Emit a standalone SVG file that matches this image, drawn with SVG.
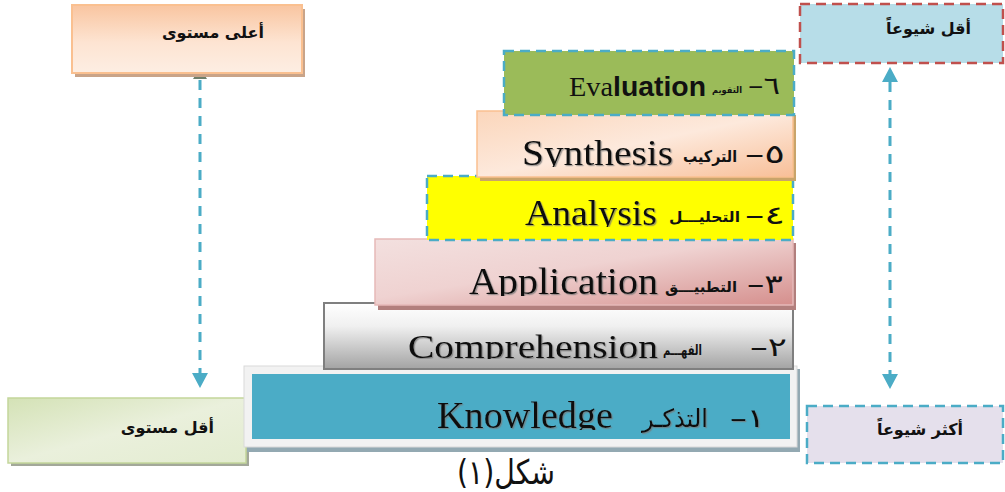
<svg xmlns="http://www.w3.org/2000/svg" width="1005" height="492" viewBox="0 0 1005 492">
<style>
.en{font-family:"Liberation Serif",serif;fill:#111;}
.ar{font-family:"DejaVu Sans","Noto Sans",sans-serif;font-weight:bold;fill:#111;}
.num{font-family:"DejaVu Sans","Liberation Serif",serif;fill:#111;}
.lbl{font-family:"DejaVu Sans","Noto Sans",sans-serif;font-weight:bold;font-size:16px;fill:#111;}
.conn{fill:none;stroke:#4bacc6;stroke-width:3;stroke-dasharray:10 8;}
</style>
<defs>
<linearGradient id="gPeach" x1="0" y1="0" x2="0" y2="1">
<stop offset="0" stop-color="#f9c5a0"/><stop offset="0.55" stop-color="#fde4d2"/><stop offset="1" stop-color="#fdeee3"/>
</linearGradient>
<linearGradient id="gPeach2" x1="0" y1="0" x2="1" y2="1">
<stop offset="0" stop-color="#fbd6bb"/><stop offset="0.5" stop-color="#fde9dc"/><stop offset="1" stop-color="#f8bf98"/>
</linearGradient>
<linearGradient id="gPink" x1="0" y1="0" x2="1" y2="1">
<stop offset="0" stop-color="#f3e0df"/><stop offset="0.45" stop-color="#efd2d1"/><stop offset="1" stop-color="#d58f8d"/>
</linearGradient>
<linearGradient id="gGray" x1="0" y1="0" x2="0" y2="1">
<stop offset="0" stop-color="#ffffff"/><stop offset="0.35" stop-color="#f0f0f0"/><stop offset="1" stop-color="#a3a3a3"/>
</linearGradient>
<linearGradient id="gGreen" x1="0" y1="0" x2="1" y2="1">
<stop offset="0" stop-color="#d4e2b6"/><stop offset="0.5" stop-color="#eaf0dc"/><stop offset="1" stop-color="#e3ecd0"/>
</linearGradient>
<filter id="ts" x="-5%" y="-20%" width="110%" height="140%">
<feDropShadow dx="1.2" dy="1.2" stdDeviation="0.6" flood-color="#777" flood-opacity="0.7"/>
</filter>
<marker id="ah" viewBox="0 0 15 16" refX="0" refY="8" markerWidth="15" markerHeight="16" markerUnits="userSpaceOnUse" orient="auto-start-reverse">
<path d="M0,0 L15,8 L0,16 Z" fill="#4bacc6"/>
</marker>
<clipPath id="c5"><rect x="400" y="100" width="400" height="67"/></clipPath>
<clipPath id="c4"><rect x="400" y="170" width="400" height="57"/></clipPath>
<clipPath id="c3"><rect x="400" y="240" width="400" height="56"/></clipPath>
<clipPath id="c2"><rect x="380" y="300" width="420" height="59"/></clipPath>
<clipPath id="c1"><rect x="400" y="375" width="400" height="55"/></clipPath>
</defs>

<g id="connectors">
<polygon points="196,74 204,74 207,79 193,79" fill="#6e7f6b"/>
<line class="conn" x1="200" y1="80" x2="200" y2="373" marker-end="url(#ah)"/>
<line class="conn" x1="890" y1="82" x2="890" y2="374" marker-start="url(#ah)" marker-end="url(#ah)"/>
</g>

<g id="node-top-left">
<rect x="75" y="9" width="230" height="68" fill="#c9a489"/>
<rect x="72" y="5" width="230" height="68" fill="url(#gPeach)" stroke="#fac090" stroke-width="2"/>
<text class="lbl" x="264" y="38" text-anchor="end">أعلى مستوى</text>
</g>

<g id="node-top-right">
<rect x="800" y="4" width="203" height="59" fill="#b7dde8" stroke="#c0504d" stroke-width="2.5" stroke-dasharray="10 6"/>
<text class="lbl" x="971" y="34" text-anchor="end">أقل شيوعاً</text>
</g>

<g id="node-bottom-left">
<rect x="11" y="401" width="238" height="65" fill="#a3a89a"/>
<rect x="8" y="398" width="238" height="65" fill="url(#gGreen)" stroke="#c3d69b" stroke-width="1.5"/>
<text class="lbl" x="214" y="433" text-anchor="end">أقل مستوى</text>
</g>

<g id="node-bottom-right">
<rect x="807" y="406" width="196" height="57" fill="#e5e0ec" stroke="#4bacc6" stroke-width="2.5" stroke-dasharray="10 6"/>
<text class="lbl" x="963" y="435" text-anchor="end">أكثر شيوعاً</text>
</g>

<g id="node-1-knowledge">
<rect x="247" y="369" width="553" height="83" fill="#93a9b2"/>
<rect x="244" y="366" width="553" height="81" fill="#f2f2f2" stroke="#d9d9d9" stroke-width="1"/>
<rect x="252" y="374" width="538" height="65" fill="#4bacc6"/>
<text class="en" x="437" y="428" font-size="38" textLength="176" lengthAdjust="spacingAndGlyphs" filter="url(#ts)" clip-path="url(#c1)">Knowledge</text>
<text x="642" y="427" font-family="DejaVu Sans, sans-serif" fill="#111" font-size="25" textLength="66" lengthAdjust="spacingAndGlyphs" filter="url(#ts)">التذكـر</text>
<text class="num" x="730" y="427" font-size="26" textLength="35" lengthAdjust="spacingAndGlyphs" filter="url(#ts)">–١</text>
</g>

<g id="node-2-comprehension">
<rect x="324" y="303" width="469" height="66" fill="url(#gGray)" stroke="#7f7f7f" stroke-width="2"/>
<text class="en" x="408" y="358" font-size="34" textLength="250" lengthAdjust="spacingAndGlyphs" filter="url(#ts)" clip-path="url(#c2)">Comprehension</text>
<text class="ar" x="663" y="355" font-size="14" textLength="39" lengthAdjust="spacingAndGlyphs">الفهـــم</text>
<text class="num" x="750" y="356" font-size="26" textLength="37" lengthAdjust="spacingAndGlyphs">–٢</text>
</g>

<g id="node-3-application">
<rect x="378" y="243" width="418" height="67" fill="#b27f7d"/>
<rect x="375" y="239" width="418" height="66" fill="url(#gPink)" stroke="#e6b9b8" stroke-width="1.5"/>
<text class="en" x="469" y="294" font-size="38" textLength="189" lengthAdjust="spacingAndGlyphs" filter="url(#ts)" clip-path="url(#c3)">Application</text>
<text class="ar" x="665" y="292" font-size="15" textLength="72" lengthAdjust="spacingAndGlyphs">التطبيـــق</text>
<text class="num" x="747" y="293" font-size="26" textLength="36" lengthAdjust="spacingAndGlyphs">–٣</text>
</g>

<g id="node-4-analysis">
<rect x="427" y="176" width="366" height="64" fill="#ffff00" stroke="#4bacc6" stroke-width="2.5" stroke-dasharray="10 6"/>
<text class="en" x="525" y="225" font-size="35" textLength="132" lengthAdjust="spacingAndGlyphs" filter="url(#ts)" clip-path="url(#c4)">Analysis</text>
<text class="ar" x="669" y="222" font-size="15" textLength="71" lengthAdjust="spacingAndGlyphs">التحليـــل</text>
<text class="num" x="745" y="224" font-size="26" textLength="40" lengthAdjust="spacingAndGlyphs">–٤</text>
</g>

<g id="node-5-synthesis">
<rect x="480" y="115" width="316" height="66" fill="#c9a46a"/>
<rect x="477" y="111" width="316" height="66" fill="url(#gPeach2)" stroke="#fac090" stroke-width="1.5"/>
<text class="en" x="522" y="165" font-size="36" textLength="151" lengthAdjust="spacingAndGlyphs" filter="url(#ts)" clip-path="url(#c5)">Synthesis</text>
<text class="ar" x="683" y="162" font-size="16" textLength="54" lengthAdjust="spacingAndGlyphs">التركيب</text>
<text class="num" x="745" y="163" font-size="26" textLength="40" lengthAdjust="spacingAndGlyphs">–٥</text>
</g>

<g id="node-6-evaluation">
<rect x="504" y="51" width="290" height="64" fill="#9bbb59" stroke="#4bacc6" stroke-width="2.5" stroke-dasharray="10 6"/>
<text x="569" y="96" font-size="28" textLength="137" lengthAdjust="spacingAndGlyphs" fill="#111"><tspan font-family="Liberation Serif, serif">Eva</tspan><tspan font-family="Liberation Sans, sans-serif" font-weight="bold">luation</tspan></text>
<text class="ar" x="712" y="93" font-size="9" textLength="30" lengthAdjust="spacingAndGlyphs">التقويم</text>
<text class="num" x="748" y="94" font-size="24" textLength="32" lengthAdjust="spacingAndGlyphs">–٦</text>
</g>

<g id="caption">
<text x="457" y="484" font-family="DejaVu Sans, sans-serif" font-size="34" textLength="98" lengthAdjust="spacingAndGlyphs" fill="#111">شكل(١)</text>
</g>
</svg>
